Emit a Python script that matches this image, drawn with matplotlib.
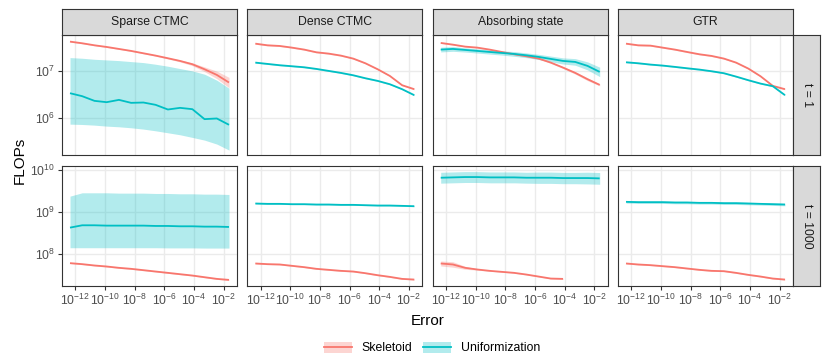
import matplotlib

matplotlib.use("Agg")
import matplotlib.pyplot as plt
import numpy as np
from matplotlib.legend_handler import HandlerTuple
from matplotlib.lines import Line2D
from matplotlib.patches import Patch

plt.rcParams["font.family"] = ["Liberation Sans", "DejaVu Sans"]
plt.rcParams["mathtext.fontset"] = "custom"
plt.rcParams["mathtext.rm"] = "Liberation Sans"
plt.rcParams["mathtext.it"] = "Liberation Sans:italic"

# ---------------------------------------------------------------------------
# Data (FLOPs given as log10)
# ---------------------------------------------------------------------------
error_log = [-12.36, -11.54, -10.71, -9.89, -9.06, -8.24, -7.41,
             -6.59, -5.76, -4.94, -4.11, -3.29, -2.46, -1.64]

models = ["Sparse CTMC", "Dense CTMC", "Absorbing state", "GTR"]
times = ["t = 1", "t = 1000"]
methods = ["Skeletoid", "Uniformization"]

# t = 1
sparse_t1_skel = [7.620, 7.585, 7.542, 7.507, 7.465, 7.423, 7.373, 7.324, 7.268, 7.211, 7.141, 7.035, 6.915, 6.754]
sparse_t1_skel_sd = [0.01, 0.01, 0.01, 0.01, 0.01, 0.01, 0.01, 0.012, 0.015, 0.02, 0.03, 0.05, 0.08, 0.11]
sparse_t1_unif = [6.528, 6.465, 6.366, 6.338, 6.387, 6.324, 6.331, 6.282, 6.183, 6.218, 6.190, 5.979, 5.993, 5.859]
sparse_t1_unif_hi = [7.282, 7.268, 7.246, 7.232, 7.218, 7.197, 7.176, 7.141, 7.099, 7.049, 7.000, 6.930, 6.803, 6.634]
sparse_t1_unif_lo = [5.873, 5.866, 5.852, 5.831, 5.817, 5.796, 5.768, 5.732, 5.690, 5.648, 5.592, 5.535, 5.451, 5.324]

dense_t1_skel = [7.577, 7.542, 7.528, 7.493, 7.451, 7.394, 7.366, 7.324, 7.261, 7.162, 7.035, 6.894, 6.697, 6.613]
dense_t1_unif = [7.176, 7.148, 7.120, 7.099, 7.077, 7.042, 7.000, 6.958, 6.908, 6.845, 6.789, 6.718, 6.613, 6.486]

absorb_t1_skel = [7.592, 7.556, 7.514, 7.493, 7.451, 7.401, 7.352, 7.310, 7.261, 7.176, 7.070, 6.958, 6.824, 6.704]
absorb_t1_skel_sd = [0.01, 0.01, 0.01, 0.01, 0.01, 0.01, 0.01, 0.01, 0.012, 0.015, 0.02, 0.025, 0.03, 0.02]
absorb_t1_unif = [7.451, 7.465, 7.444, 7.423, 7.401, 7.380, 7.359, 7.331, 7.296, 7.254, 7.211, 7.190, 7.106, 6.979]
absorb_t1_unif_sd = [0.05, 0.05, 0.045, 0.045, 0.045, 0.045, 0.05, 0.05, 0.055, 0.06, 0.065, 0.07, 0.085, 0.1]

gtr_t1_skel = [7.577, 7.542, 7.535, 7.493, 7.451, 7.401, 7.352, 7.317, 7.261, 7.176, 7.049, 6.887, 6.683, 6.613]
gtr_t1_unif = [7.183, 7.162, 7.134, 7.113, 7.085, 7.056, 7.028, 6.993, 6.951, 6.880, 6.803, 6.732, 6.676, 6.486]

# t = 1000
sparse_t1000_skel = [7.776, 7.752, 7.720, 7.696, 7.664, 7.640, 7.608, 7.576, 7.544, 7.512, 7.480, 7.440, 7.400, 7.376]
sparse_t1000_unif = [8.624, 8.680, 8.680, 8.672, 8.672, 8.672, 8.672, 8.664, 8.664, 8.656, 8.656, 8.648, 8.648, 8.640]
sparse_t1000_unif_hi = [9.376, 9.456, 9.456, 9.456, 9.448, 9.448, 9.448, 9.440, 9.440, 9.432, 9.432, 9.424, 9.424, 9.416]
sparse_t1000_unif_lo = [8.144, 8.144, 8.144, 8.144, 8.144, 8.144, 8.144, 8.144, 8.140, 8.140, 8.140, 8.136, 8.136, 8.136]

dense_t1000_skel = [7.768, 7.752, 7.744, 7.712, 7.680, 7.640, 7.616, 7.592, 7.576, 7.536, 7.488, 7.448, 7.400, 7.384]
dense_t1000_unif = [9.200, 9.192, 9.192, 9.184, 9.184, 9.176, 9.176, 9.168, 9.168, 9.160, 9.152, 9.152, 9.144, 9.136]

absorb_t1000_skel = [7.768, 7.744, 7.664, 7.624, 7.592, 7.568, 7.544, 7.504, 7.456, 7.408, 7.400]
absorb_t1000_skel_sd = [0.06, 0.065, 0.035, 0.015, 0.01, 0.01, 0.01, 0.01, 0.01, 0.01, 0.01]
absorb_t1000_unif = [9.816, 9.824, 9.832, 9.832, 9.824, 9.824, 9.824, 9.816, 9.816, 9.816, 9.808, 9.808, 9.808, 9.800]
absorb_t1000_unif_sd = [0.13, 0.13, 0.13, 0.13, 0.13, 0.13, 0.13, 0.13, 0.135, 0.135, 0.135, 0.135, 0.14, 0.14]

gtr_t1000_skel = [7.768, 7.744, 7.728, 7.704, 7.680, 7.648, 7.616, 7.592, 7.584, 7.544, 7.496, 7.456, 7.408, 7.384]
gtr_t1000_unif = [9.240, 9.232, 9.232, 9.232, 9.224, 9.224, 9.216, 9.216, 9.208, 9.208, 9.200, 9.192, 9.184, 9.176]
gtr_t1000_unif_sd = [0.03] * 14

x_ticks_log = [-12, -10, -8, -6, -4, -2]
y_ticks_log = [[6, 7], [8, 9, 10]]

# ---------------------------------------------------------------------------
# Styling / layout (pixel coords of the 830x357 canvas)
# ---------------------------------------------------------------------------
RED, CYAN = "#F8766D", "#00BFC4"
GRID, BORDER, STRIP = "#EBEBEB", "#333333", "#D9D9D9"
W, H = 830, 357
COL_X = [62, 247.3, 432.7, 618]
PANEL_W = 175
ROW_Y = [(35, 155), (166, 286)]
XLIM = (10 ** -12.9, 10 ** -1.1)
YLIM = [(10 ** 5.22, 10 ** 7.76), (10 ** 7.23, 10 ** 10.096)]


def _rect(x0, y0, x1, y1):
    return [x0 / W, 1 - y1 / H, (x1 - x0) / W, (y1 - y0) / H]


def _band(mid, sd):
    mid = np.asarray(mid)
    sd = np.asarray(sd)
    return mid - sd, mid + sd


def _series(mid, lo, hi):
    n = len(mid)
    x = 10 ** np.asarray(error_log[:n])
    return x, 10 ** np.asarray(mid), 10 ** np.asarray(lo), 10 ** np.asarray(hi)


def _strip(rect, text, rotation=0):
    sax = fig.add_axes(rect)
    sax.set_facecolor(STRIP)
    sax.set_xticks([])
    sax.set_yticks([])
    for sp in sax.spines.values():
        sp.set_color(BORDER)
        sp.set_linewidth(0.8)
    sax.text(0.5, 0.5, text, ha="center", va="center", fontsize=8.8,
             color="#1A1A1A", rotation=rotation, transform=sax.transAxes)


thin = [0.012] * 14
panels = {
    (0, 0): [(sparse_t1_skel, *_band(sparse_t1_skel, sparse_t1_skel_sd)),
             (sparse_t1_unif, sparse_t1_unif_lo, sparse_t1_unif_hi)],
    (0, 1): [(dense_t1_skel, *_band(dense_t1_skel, thin)),
             (dense_t1_unif, *_band(dense_t1_unif, thin))],
    (0, 2): [(absorb_t1_skel, *_band(absorb_t1_skel, absorb_t1_skel_sd)),
             (absorb_t1_unif, *_band(absorb_t1_unif, absorb_t1_unif_sd))],
    (0, 3): [(gtr_t1_skel, *_band(gtr_t1_skel, thin)),
             (gtr_t1_unif, *_band(gtr_t1_unif, thin))],
    (1, 0): [(sparse_t1000_skel, *_band(sparse_t1000_skel, thin)),
             (sparse_t1000_unif, sparse_t1000_unif_lo, sparse_t1000_unif_hi)],
    (1, 1): [(dense_t1000_skel, *_band(dense_t1000_skel, thin)),
             (dense_t1000_unif, *_band(dense_t1000_unif, thin))],
    (1, 2): [(absorb_t1000_skel, *_band(absorb_t1000_skel, absorb_t1000_skel_sd)),
             (absorb_t1000_unif, *_band(absorb_t1000_unif, absorb_t1000_unif_sd))],
    (1, 3): [(gtr_t1000_skel, *_band(gtr_t1000_skel, thin)),
             (gtr_t1000_unif, *_band(gtr_t1000_unif, gtr_t1000_unif_sd))],
}

fig = plt.figure(figsize=(W / 100, H / 100), dpi=100)

for r in range(2):
    y0, y1 = ROW_Y[r]
    for c in range(4):
        ax = fig.add_axes(_rect(COL_X[c], y0, COL_X[c] + PANEL_W, y1))
        ax.set_xscale("log")
        ax.set_yscale("log")
        for (mid, lo, hi), color in zip(panels[(r, c)], [RED, CYAN]):
            x, m, l, h = _series(mid, lo, hi)
            ax.fill_between(x, l, h, color=color, alpha=0.3, lw=0)
            ax.plot(x, m, color=color, lw=1.3, solid_capstyle="butt")
        ax.set_xlim(*XLIM)
        ax.set_ylim(*YLIM[r])
        ax.set_xticks([10.0 ** e for e in x_ticks_log])
        ax.set_xticklabels([f"$10^{{{e}}}$" for e in x_ticks_log])
        ax.set_yticks([10.0 ** e for e in y_ticks_log[r]])
        ax.set_yticklabels([f"$10^{{{e}}}$" for e in y_ticks_log[r]])
        ax.minorticks_off()
        ax.set_axisbelow(True)
        ax.grid(True, which="major", color=GRID, lw=1.0)
        for sp in ax.spines.values():
            sp.set_color(BORDER)
            sp.set_linewidth(0.8)
        ax.tick_params(colors=BORDER, labelcolor="#4D4D4D", labelsize=8.8,
                       length=2.75, width=0.8, pad=2)
        if r == 0:
            ax.tick_params(axis="x", length=0, labelbottom=False)
        if c > 0:
            ax.tick_params(axis="y", length=0, labelleft=False)

# facet strips
for c, name in enumerate(models):
    _strip(_rect(COL_X[c], 9, COL_X[c] + PANEL_W, 35), name)
for r, label in enumerate(times):
    _strip(_rect(793, ROW_Y[r][0], 820, ROW_Y[r][1]), label, rotation=-90)

fig.text(427.5 / W, 1 - 321 / H, "Error", ha="center", va="center", fontsize=11)
fig.text(20 / W, 1 - 160 / H, "FLOPs", ha="center", va="center", fontsize=11,
         rotation=90)

handles = [(Patch(facecolor=col, alpha=0.3, lw=0), Line2D([], [], color=col, lw=1.3))
           for col in [RED, CYAN]]
fig.legend(handles, methods, loc="center", bbox_to_anchor=(432 / W, 1 - 348 / H),
           ncol=2, frameon=False, fontsize=8.8, handlelength=2.3, handleheight=1.05,
           handletextpad=0.8, columnspacing=0.9,
           handler_map={tuple: HandlerTuple(ndivide=1, pad=0)})

fig.savefig("out.png", dpi=100)
